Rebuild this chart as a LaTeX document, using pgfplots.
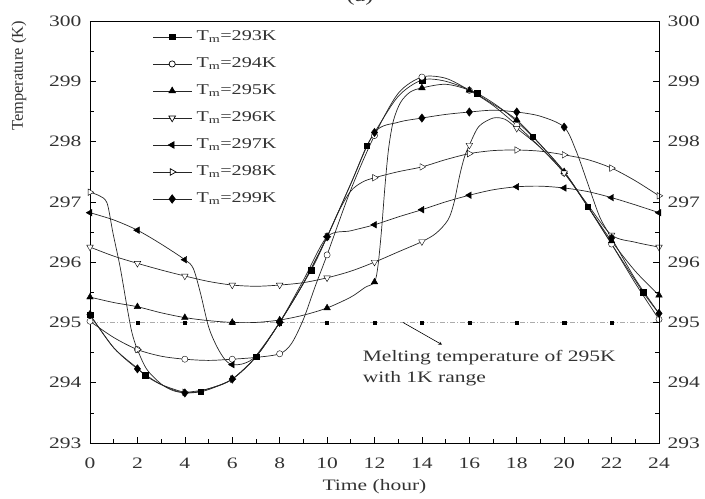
\documentclass[border=0pt]{standalone}
\usepackage{fontspec}
\setmainfont{Liberation Serif}[FakeStretch=1.35]
\newfontfamily\vfont{Liberation Serif}
\usepackage{pgfplots}
\pgfplotsset{compat=1.18}
\pgfplotsset{
  cl/.style={black!85, line width=0.7bp, smooth, mark=none},
  s293/.style={mark=square*, mark size=2.8bp, mark options={solid, black, fill=black}},
  s294/.style={mark=*, mark size=3.1bp, mark options={solid, black, fill=white}},
  s295/.style={mark=triangle*, mark size=3.8bp, mark options={solid, black, fill=black}},
  s296/.style={mark=triangle*, mark size=3.8bp, mark options={solid, black, fill=white, rotate=180}},
  s297/.style={mark=triangle*, mark size=3.8bp, mark options={solid, black, fill=black, rotate=90}},
  s298/.style={mark=triangle*, mark size=3.8bp, mark options={solid, black, fill=white, rotate=-90}},
  s299/.style={mark=diamond*, mark size=4.2bp, mark options={solid, black, fill=black}},
}
\begin{document}
\begin{tikzpicture}
\begin{axis}[
  scale only axis, width=569bp, height=422bp,
  xmin=0, xmax=24, ymin=293, ymax=300,
  xtick={0,2,...,24}, ytick={293,294,...,300},
  minor x tick num=1, minor y tick num=1,
  xtick pos=left, ytick pos=left,
  tick align=inside,
  major tick length=6bp, minor tick length=4bp,
  tick style={black, line width=0.6bp},
  axis line style={line width=0.9bp},
  /pgf/number format/assume math mode=true,
  ticklabel style={font=\fontsize{16}{18}\selectfont, text=black!80},
  xticklabel style={yshift=-11bp},
  yticklabel style={xshift=-5bp},
  xlabel={Time (hour)},
  xlabel style={at={(axis description cs:0.5,0)}, anchor=center, yshift=-44bp, font=\fontsize{16}{18}\selectfont, text=black!80},
  legend cell align=left,
  legend style={at={(axis cs:2.65,299.876)}, anchor=north west, draw=none, fill=none,
     inner sep=0pt, outer sep=0pt, row sep=10bp, column sep=4bp,
     font=\fontsize{15}{17}\selectfont, text=black!80,
     nodes={inner sep=1bp, text height=11bp, text depth=4bp}},
  legend image code/.code={\draw[mark repeat=2,mark phase=2,#1] plot coordinates {(0bp,0bp) (19bp,0bp) (38bp,0bp)};},
]
\addlegendimage{cl, s293}\addlegendentry{T\textsubscript{m}=293K}
\addlegendimage{cl, s294}\addlegendentry{T\textsubscript{m}=294K}
\addlegendimage{cl, s295}\addlegendentry{T\textsubscript{m}=295K}
\addlegendimage{cl, s296}\addlegendentry{T\textsubscript{m}=296K}
\addlegendimage{cl, s297}\addlegendentry{T\textsubscript{m}=297K}
\addlegendimage{cl, s298}\addlegendentry{T\textsubscript{m}=298K}
\addlegendimage{cl, s299}\addlegendentry{T\textsubscript{m}=299K}

% melting line
\addplot[gray!65, line width=0.7bp, dash pattern=on 5bp off 2bp on 1bp off 2bp, forget plot] coordinates {(0,295)(24,295)};
\addplot[only marks, mark=square*, mark size=1.6bp, mark options={black}, forget plot] coordinates {(2,295)(4,295)(6,295)(8,295)(10,295)(12,295)(14,295)(16,295)(18,295)(20,295)(22,295)};

% 293
\addplot[cl, forget plot] coordinates {(0,295.13)(1,294.58)(2,294.24)(2.33,294.12)(3,293.97)(4,293.84)(4.67,293.85)(5.3,293.93)(6,294.06)(7,294.43)(8,295.0)(9.33,295.87)(10,296.42)(11,297.3)(11.67,297.93)(12,298.15)(13,298.75)(14,299.02)(15,299.0)(16.33,298.8)(17.5,298.5)(18.67,298.08)(20,297.5)(21,296.92)(22,296.3)(23.33,295.5)(24,295.15)};
\addplot[only marks, s293, forget plot] coordinates {(0,295.13)(2.33,294.12)(4.67,293.85)(7,294.43)(9.33,295.87)(11.67,297.93)(14,299.02)(16.33,298.8)(18.67,298.08)(21,296.92)(23.33,295.5)};

% 294
\addplot[cl, forget plot] coordinates {(0,295.02)(1,294.75)(2,294.55)(3,294.44)(4,294.39)(5,294.37)(6,294.39)(7,294.42)(8,294.48)(8.5,294.65)(9,295.05)(9.5,295.6)(10,296.12)(11,297.2)(12,298.1)(13,298.8)(14,299.07)(15,299.05)(16,298.85)(17,298.6)(18,298.27)(19,297.9)(20,297.48)(21,296.92)(22,296.3)(23,295.65)(24,295.05)};
\addplot[only marks, s294, forget plot] coordinates {(0,295.02)(2,294.55)(4,294.39)(6,294.39)(8,294.48)(10,296.12)(12,298.1)(14,299.07)(16,298.85)(18,298.27)(20,297.48)(22,296.3)(24,295.05)};

% 295
\addplot[cl, forget plot] coordinates {(0,295.42)(1,295.33)(2,295.26)(3,295.16)(4,295.08)(5,295.03)(6,295.0)(7,295.0)(8,295.04)(9,295.12)(10,295.24)(11,295.42)(11.6,295.58)(12,295.67)(12.15,295.95)(12.3,296.55)(12.45,297.3)(12.6,297.9)(12.8,298.35)(13.1,298.65)(13.5,298.82)(14,298.89)(15,298.95)(16,298.85)(17,298.62)(18,298.36)(19,297.95)(20,297.5)(21,296.92)(22,296.35)(23,295.85)(24,295.45)};
\addplot[only marks, s295, forget plot] coordinates {(0,295.42)(2,295.26)(4,295.08)(6,295.0)(8,295.04)(10,295.24)(12,295.67)(14,298.89)(16,298.85)(18,298.36)(20,297.5)(22,296.35)(24,295.45)};

% 296
\addplot[cl, forget plot] coordinates {(0,296.25)(1,296.1)(2,295.98)(3,295.87)(4,295.77)(5,295.68)(6,295.62)(7,295.6)(8,295.62)(9,295.66)(10,295.74)(11,295.85)(12,296.0)(13,296.17)(14,296.34)(14.6,296.48)(15.1,296.7)(15.35,296.98)(15.6,297.45)(15.8,297.75)(16,297.94)(16.4,298.25)(17,298.39)(17.5,298.37)(18,298.22)(19,297.9)(20,297.48)(21,296.95)(22,296.45)(23,296.33)(24,296.25)};
\addplot[only marks, s296, forget plot] coordinates {(0,296.25)(2,295.98)(4,295.77)(6,295.62)(8,295.62)(10,295.74)(12,296.0)(14,296.34)(16,297.94)(18,298.22)(20,297.48)(22,296.45)(24,296.25)};

% 297
\addplot[cl, forget plot] coordinates {(0,296.82)(1,296.7)(2,296.53)(3,296.3)(4,296.04)(4.35,295.9)(4.65,295.5)(5,294.93)(5.35,294.6)(5.7,294.38)(6,294.3)(6.5,294.32)(7,294.45)(8,295.0)(9,295.7)(10,296.42)(11,296.52)(12,296.62)(13,296.75)(14,296.87)(15,297.0)(16,297.11)(17,297.2)(18,297.25)(19,297.26)(20,297.23)(21,297.17)(22,297.07)(23,296.95)(24,296.82)};
\addplot[only marks, s297, forget plot] coordinates {(0,296.82)(2,296.53)(4,296.04)(6,294.3)(8,295.0)(10,296.42)(12,296.62)(14,296.87)(16,297.11)(18,297.25)(20,297.23)(22,297.07)(24,296.82)};

% 298
\addplot[cl, forget plot] coordinates {(0,297.16)(0.4,297.1)(0.72,296.98)(0.97,296.48)(1.27,295.92)(1.56,295.26)(1.77,294.83)(2,294.55)(2.4,294.22)(3,293.98)(3.5,293.87)(4,293.84)(5,293.9)(6,294.06)(7,294.43)(8,295.0)(9,295.65)(10,296.42)(10.5,296.85)(11,297.18)(11.5,297.33)(12,297.4)(13,297.5)(14,297.58)(15,297.7)(16,297.8)(17,297.85)(18,297.86)(19,297.84)(20,297.78)(21,297.7)(22,297.56)(23,297.35)(24,297.1)};
\addplot[only marks, s298, forget plot] coordinates {(0,297.16)(2,294.55)(4,293.84)(6,294.06)(8,295.0)(10,296.42)(12,297.4)(14,297.58)(16,297.8)(18,297.86)(20,297.78)(22,297.56)(24,297.1)};

% 299
\addplot[cl, forget plot] coordinates {(0,295.13)(1,294.58)(2,294.23)(3,293.97)(4,293.83)(5,293.9)(6,294.06)(7,294.43)(8,295.0)(9,295.65)(10,296.42)(11,297.3)(12,298.15)(13,298.32)(14,298.39)(15,298.45)(16,298.49)(17,298.52)(18,298.49)(19,298.42)(20,298.24)(20.5,297.85)(21,297.3)(21.5,296.75)(22,296.4)(23,295.72)(24,295.15)};
\addplot[only marks, s299, forget plot] coordinates {(0,295.13)(2,294.23)(4,293.83)(6,294.06)(8,295.0)(10,296.42)(12,298.15)(14,298.39)(16,298.49)(18,298.49)(20,298.24)(22,296.4)(24,295.15)};

\draw[-stealth, black, line width=0.6bp] (axis cs:13.2,295.0) -- (axis cs:14.85,294.63);
\node[anchor=base west, inner sep=0pt, font=\fontsize{16}{18}\selectfont, text=black!80] at (axis cs:11.5,294.35) {Melting temperature of 295K};
\node[anchor=base west, inner sep=0pt, font=\fontsize{16}{18}\selectfont, text=black!80] at (axis cs:11.5,294.0) {with 1K range};
\end{axis}
\begin{axis}[
  scale only axis, width=569bp, height=422bp,
  xmin=0, xmax=24, ymin=293, ymax=300,
  axis x line=none, axis y line*=right,
  ytick={293,294,...,300}, minor y tick num=1,
  tick align=inside, major tick length=6bp, minor tick length=4bp,
  tick style={black, line width=0.6bp},
  axis line style={line width=0.9bp},
  /pgf/number format/assume math mode=true,
  yticklabel style={font=\fontsize{16}{18}\selectfont, text=black!80, xshift=5bp},
]
\addplot[draw=none, forget plot] coordinates {(0,293)};
\end{axis}
\node[rotate=90, font=\vfont\fontsize{16.5}{19}\selectfont, text=black!80] at (-71bp,367bp) {Temperature (K)};
\node[anchor=base, font=\fontsize{18}{20}\selectfont, text=black!80] at (270bp,441bp) {(a)};
\pgfresetboundingbox
\useasboundingbox (-90bp,-56bp) rectangle (615bp,443bp);
\end{tikzpicture}
\end{document}
